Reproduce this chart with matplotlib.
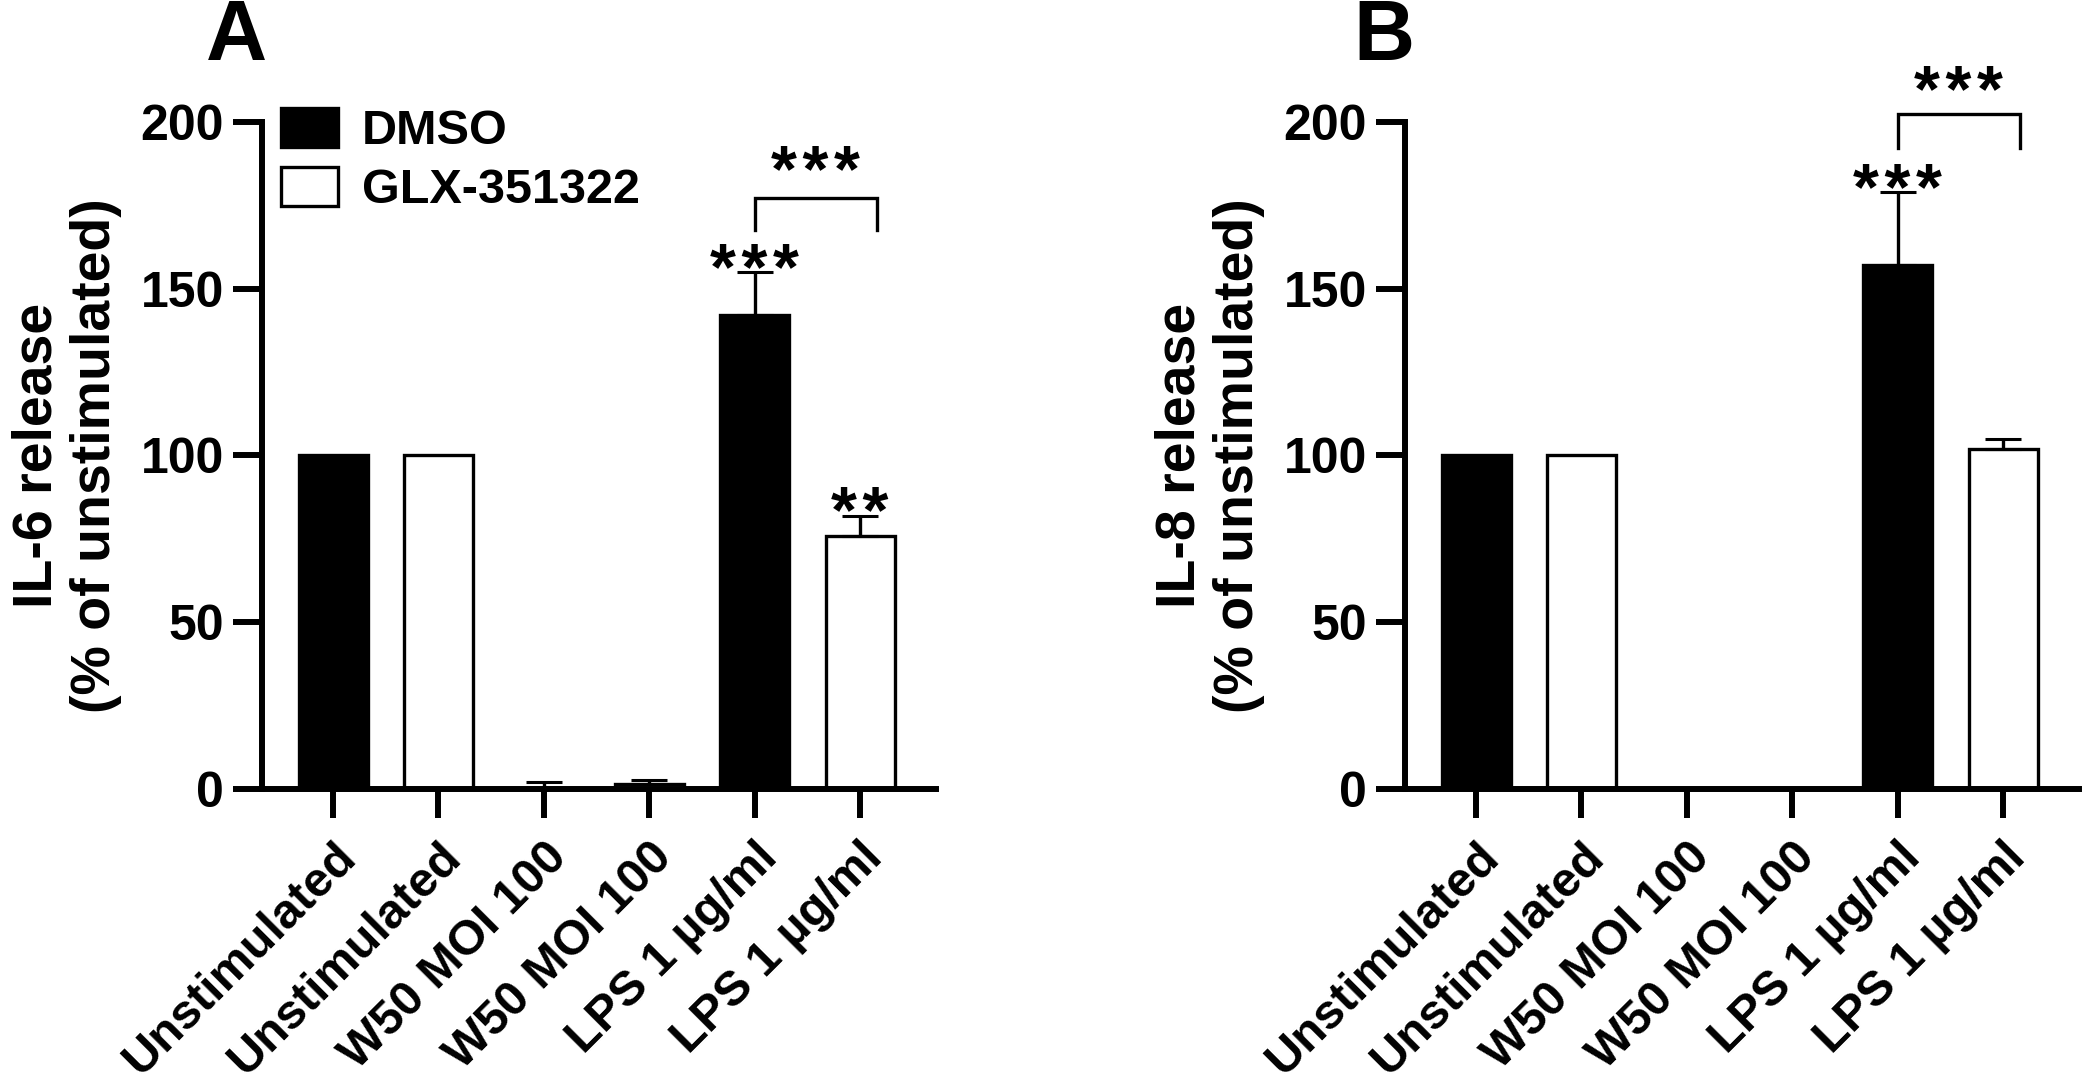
import matplotlib
matplotlib.use("Agg")
import matplotlib.pyplot as plt
import matplotlib.transforms as mtransforms
from matplotlib.patches import Patch
import numpy as np

# ---------------- data ----------------
categories = ["Unstimulated", "Unstimulated", "W50 MOI 100", "W50 MOI 100",
              "LPS 1 µg/ml", "LPS 1 µg/ml"]
treatment = ["DMSO", "GLX-351322", "DMSO", "GLX-351322", "DMSO", "GLX-351322"]
il6_mean = [100, 100, 0.3, 1.5, 142, 76]
il6_err = [0, 0, 1.8, 1.2, 13, 6]
il8_mean = [100, 100, 0, 0, 157, 102]
il8_err = [0, 0, 0, 0, 22, 3]
yticks = [0, 50, 100, 150, 200]

# significance marks: (bar index, y of star centre, text)
il6_stars = [(4, 160.6, "***"), (5, 87.6, "**")]
il8_stars = [(4, 184.5, "***")]
# bracket: (x_left, x_right, y_legs_bottom, y_top, y_text, text)
il6_bracket = (4, 5.16, 167.5, 177.3, 190.1, "***")
il8_bracket = (4, 5.16, 192.2, 202.3, 214.1, "***")

FONT = "Liberation Sans"
plt.rcParams["font.family"] = [FONT, "DejaVu Sans"]
plt.rcParams["font.weight"] = "bold"

DPI = 100
fig = plt.figure(figsize=(20.82, 10.86), dpi=DPI)

AX_W = (936 - 262) / 2082
AX_H = (789 - 122) / 1086
AX_B = 1 - 789 / 1086
axA = fig.add_axes([262 / 2082, AX_B, AX_W, AX_H])
axB = fig.add_axes([1405 / 2082, AX_B, AX_W, AX_H])

colors = {"DMSO": "black", "GLX-351322": "white"}
LW_AX = 4.3
BAR_W = 0.655
STAR_FS = 48
TICK_LEN = 21


def star_text(ax, x, y, t):
    # place the visual centre of the asterisks at (x, y)
    tr = mtransforms.offset_copy(ax.transData, fig=fig, y=-0.548 * STAR_FS,
                                 units="points")
    ax.text(x, y, t.replace("*", "*\u200a").rstrip("\u200a"), transform=tr,
            ha="center", va="baseline", fontsize=STAR_FS, fontweight="bold",
            clip_on=False)


def draw(ax, means, errs, stars, bracket, ylabel):
    x = np.arange(len(categories))
    fc = [colors[t] for t in treatment]
    ax.bar(x, means, width=BAR_W, color=fc, edgecolor="black", linewidth=2.4,
           zorder=2)
    m = np.array(errs) > 0
    em = np.array(errs)[m]
    ax.errorbar(x[m], np.array(means)[m], yerr=[np.zeros_like(em), em],
                fmt="none", ecolor="black", elinewidth=2.4, capsize=12.7,
                capthick=2.2, zorder=3)
    for i, y, t in stars:
        star_text(ax, x[i], y, t)
    xl, xr, yb, yt, ytxt, t = bracket
    ax.plot([xl, xl, xr, xr], [yb, yt, yt, yb], color="black", lw=2.4,
            clip_on=False, solid_joinstyle="miter")
    star_text(ax, (xl + xr) / 2, ytxt, t)

    ax.set_xlim(-0.674, 5.72)
    ax.set_ylim(0, 200)
    ax.set_yticks(yticks)
    ax.set_xticks(x)
    ax.set_xticklabels(categories, rotation=45, ha="right", va="top",
                       rotation_mode="anchor", fontsize=35, fontweight="bold")
    shift = mtransforms.ScaledTranslation(9 / DPI, 0, fig.dpi_scale_trans)
    for lab in ax.get_xticklabels():
        lab.set_transform(lab.get_transform() + shift)
    ax.tick_params(axis="y", labelsize=36, length=TICK_LEN, width=LW_AX, pad=6.5)
    ax.tick_params(axis="x", length=TICK_LEN, width=LW_AX, pad=12)
    for lab in ax.get_yticklabels():
        lab.set_fontweight("bold")
    for s in ("top", "right"):
        ax.spines[s].set_visible(False)
    for s in ("left", "bottom"):
        ax.spines[s].set_linewidth(LW_AX)
    ax.set_ylabel(ylabel, fontsize=40, fontweight="bold", linespacing=1.15)
    ax.yaxis.set_label_coords(-0.208, 0.5)


draw(axA, il6_mean, il6_err, il6_stars, il6_bracket,
     "IL-6 release\n(% of unstimulated)")
draw(axB, il8_mean, il8_err, il8_stars, il8_bracket,
     "IL-8 release\n(% of unstimulated)")

# legend
handles = [Patch(facecolor="black", edgecolor="black", linewidth=2.4, label="DMSO"),
           Patch(facecolor="white", edgecolor="black", linewidth=2.4,
                 label="GLX-351322")]
fig.legend(handles=handles, loc="upper left",
           bbox_to_anchor=(281 / 2082, 1 - 108 / 1086), frameon=False,
           prop={"family": FONT, "weight": "bold", "size": 35},
           handlelength=1.17, handleheight=0.86, handletextpad=0.5,
           labelspacing=0.25, borderpad=0, borderaxespad=0)

fig.text(236.5 / 2082, 1 - 60 / 1086, "A", ha="center", va="baseline",
         fontsize=61, fontweight="bold")
fig.text(1384 / 2082, 1 - 60 / 1086, "B", ha="center", va="baseline",
         fontsize=61, fontweight="bold")

fig.savefig("out.png", dpi=DPI)
